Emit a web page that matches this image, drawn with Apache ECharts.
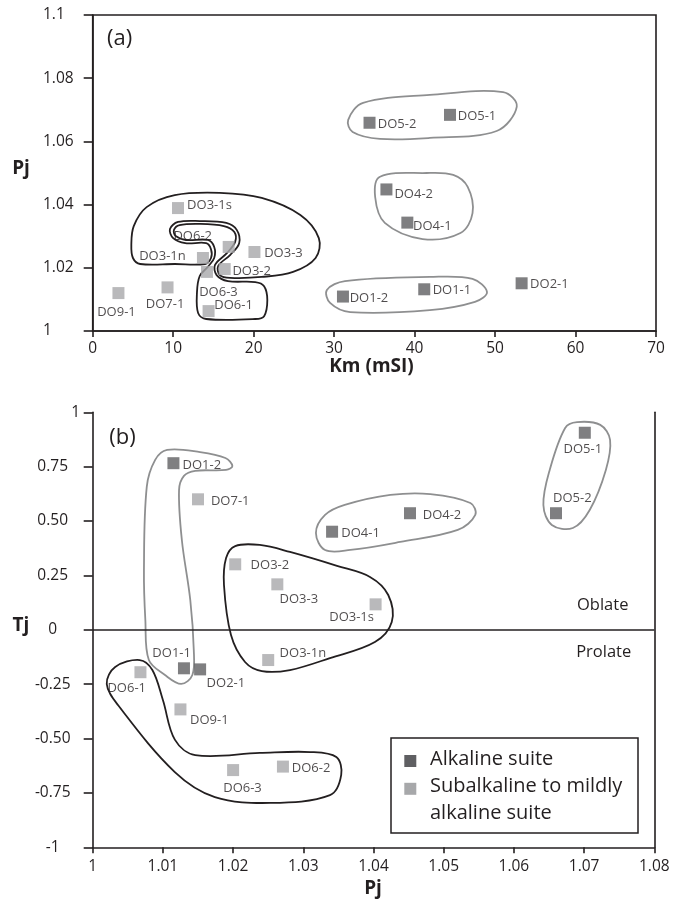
<!DOCTYPE html>
<html>
<head>
<meta charset="utf-8">
<script src="https://cdn.jsdelivr.net/npm/echarts@6/dist/echarts.min.js"></script>
<style>
html,body{margin:0;padding:0;background:#fff}
#chart{width:676px;height:903px}
</style>
</head>
<body>
<div id="chart"></div>
<script>
// ---------- Panel (a): Km (mSI) against Pj ----------
const kmTicks = ['0', '10', '20', '30', '40', '50', '60', '70'];
const pjTicksA = ['1', '1.02', '1.04', '1.06', '1.08', '1.1'];

const alkNamesA = ['DO5-2', 'DO5-1', 'DO4-2', 'DO4-1', 'DO1-2', 'DO1-1', 'DO2-1'];
const alkKm     = [34.4, 44.4, 36.5, 39.1, 31.1, 41.2, 53.3];
const alkPjA    = [1.0659, 1.0684, 1.0448, 1.0343, 1.0109, 1.0132, 1.0151];

const subNamesA = ['DO3-1s', 'DO6-2', 'DO3-3', 'DO3-1n', 'DO3-2', 'DO6-3', 'DO6-1', 'DO7-1', 'DO9-1'];
const subKm     = [10.6, 16.9, 20.1, 13.7, 16.4, 14.2, 14.4, 9.3, 3.2];
const subPjA    = [1.0389, 1.0266, 1.0250, 1.0231, 1.0196, 1.0187, 1.0063, 1.0138, 1.0120];

// group outlines, panel (a), as [Km, Pj] vertices
const outlineA_DO5 = [[31.75,1.0668],[33.6,1.0722],[41.9,1.0747],[51.0,1.0756],[52.7,1.0710],[50.2,1.0633],[41.9,1.0611],[35.7,1.0608],[32.3,1.0630]];
const outlineA_DO4 = [[35.7,1.0488],[41.5,1.0500],[44.8,1.0494],[46.6,1.0456],[47.2,1.0373],[45.7,1.0310],[41.0,1.0291],[36.3,1.0342],[35.1,1.0424]];
const outlineA_DO1 = [[29.1,1.0130],[31.35,1.0158],[41.9,1.0171],[47.2,1.0165],[49.0,1.0123],[47.5,1.0092],[41.9,1.0066],[32.0,1.0060],[29.5,1.0089]];
const outlineA_DO3 = [[4.8,1.0272],[5.1,1.0332],[6.7,1.0392],[10.2,1.0430],[15.8,1.0437],[21.0,1.0421],[25.8,1.0367],[28.1,1.0294],[27.7,1.0231],[24.9,1.0187],[21.0,1.0171],[17.1,1.0168],[15.8,1.0177],[15.6,1.0206],[17.1,1.0241],[18.2,1.0278],[17.9,1.0320],[16.6,1.0342],[13.3,1.0348],[10.6,1.0345],[9.6,1.0323],[10.0,1.0294],[11.5,1.0278],[14.1,1.0278],[14.7,1.0259],[14.7,1.0231],[13.96,1.0212],[10.2,1.0212],[5.9,1.0212],[5.0,1.0231]];
const outlineA_DO6 = [[12.96,1.0123],[13.3,1.0174],[14.3,1.0203],[15.1,1.0231],[15.1,1.0266],[14.3,1.0288],[11.6,1.0288],[10.3,1.0301],[10.1,1.0320],[10.8,1.0335],[13.3,1.0339],[16.3,1.0332],[17.6,1.0313],[17.7,1.0282],[16.7,1.0247],[15.2,1.0209],[15.4,1.0177],[16.8,1.0158],[20.2,1.0155],[21.3,1.0142],[21.7,1.0098],[21.3,1.0047],[20.2,1.0038],[14.1,1.0038],[13.1,1.0057]];

// ---------- Panel (b): Pj against Tj ----------
const pjTicksB = ['1', '1.01', '1.02', '1.03', '1.04', '1.05', '1.06', '1.07', '1.08'];
const tjTicks  = ['-1', '-0.75', '-0.50', '-0.25', '0', '0.25', '0.50', '0.75', '1'];

const alkNamesB = ['DO1-2', 'DO1-1', 'DO2-1', 'DO4-1', 'DO4-2', 'DO5-1', 'DO5-2'];
const alkPjB    = [1.0115, 1.0130, 1.0153, 1.0341, 1.0452, 1.0701, 1.0660];
const alkTj     = [0.766, -0.177, -0.182, 0.451, 0.536, 0.906, 0.536];

const subNamesB = ['DO7-1', 'DO3-2', 'DO3-3', 'DO3-1s', 'DO3-1n', 'DO6-1', 'DO9-1', 'DO6-3', 'DO6-2'];
const subPjB    = [1.0150, 1.0203, 1.0263, 1.0403, 1.0250, 1.0068, 1.0125, 1.0200, 1.0271];
const subTj     = [0.600, 0.301, 0.209, 0.117, -0.139, -0.195, -0.366, -0.645, -0.629];

// group outlines, panel (b), as [Pj, Tj] vertices
const outlineB_DO1 = [[1.0106,0.827],[1.0153,0.817],[1.0189,0.790],[1.0199,0.753],[1.0190,0.735],[1.0146,0.731],[1.0130,0.708],[1.0123,0.643],[1.0127,0.413],[1.0139,0.137],[1.0144,-0.093],[1.0142,-0.208],[1.0126,-0.249],[1.0103,-0.208],[1.0080,-0.139],[1.0075,0.045],[1.0073,0.275],[1.0077,0.657],[1.0089,0.781]];
const outlineB_DO3 = [[1.0203,0.385],[1.0238,0.390],[1.0281,0.358],[1.0348,0.294],[1.0395,0.243],[1.0421,0.160],[1.0426,0.036],[1.0402,-0.056],[1.0338,-0.130],[1.0281,-0.185],[1.0241,-0.190],[1.0217,-0.148],[1.0197,-0.024],[1.0187,0.206],[1.0190,0.330]];
const outlineB_DO4 = [[1.0318,0.445],[1.0331,0.528],[1.0359,0.574],[1.0424,0.620],[1.0481,0.624],[1.0538,0.583],[1.0545,0.528],[1.0520,0.459],[1.0438,0.404],[1.0367,0.367],[1.0331,0.367]];
const outlineB_DO5 = [[1.0690,0.955],[1.0723,0.942],[1.0737,0.873],[1.0731,0.735],[1.0708,0.551],[1.0684,0.468],[1.0654,0.482],[1.0642,0.574],[1.0651,0.735],[1.0673,0.928]];
const outlineB_DO6 = [[1.0067,-0.139],[1.0085,-0.185],[1.0100,-0.323],[1.0117,-0.505],[1.0146,-0.576],[1.0238,-0.566],[1.0310,-0.562],[1.0347,-0.585],[1.0354,-0.667],[1.0338,-0.760],[1.0253,-0.796],[1.0174,-0.769],[1.0117,-0.654],[1.0036,-0.346],[1.0020,-0.249],[1.0032,-0.171]];

const legendNames = ['Alkaline suite', 'Subalkaline to mildly', 'alkaline suite'];

// ---------- styling ----------
const INK = '#231f20';
const DARK = '#5f5f62';
const LIGHT = '#a7a8aa';
const RIM = '#8e8f90';
const FONT = '"Open Sans", "Noto Sans", sans-serif';

// label placement (offset of label centre from marker centre, px)
const labelShiftA = {
  'DO3-1s': [31.5, -3], 'DO6-2': [-36, -11], 'DO3-3': [29, 1], 'DO3-1n': [-40.5, -2],
  'DO3-2': [27, 2], 'DO6-3': [11.5, 20], 'DO6-1': [25, -6], 'DO7-1': [-2.5, 17], 'DO9-1': [-2, 19],
  'DO5-2': [27.5, 1.3], 'DO5-1': [27, 1], 'DO4-2': [27.3, 4.7], 'DO4-1': [25, 3.3],
  'DO1-2': [26, 1.3], 'DO1-1': [27.7, 0.7], 'DO2-1': [27.8, 0.7]
};
const labelShiftB = {
  'DO1-2': [28.4, 2.4], 'DO7-1': [32.2, 1.7], 'DO3-2': [34.7, 0.7], 'DO3-3': [21.5, 15],
  'DO3-1s': [-24, 13], 'DO3-1n': [34.7, -6.7], 'DO1-1': [-12.3, -15], 'DO2-1': [25.8, 14],
  'DO6-1': [-13.7, 16], 'DO9-1': [28.9, 10.7], 'DO6-3': [9.4, 18.3], 'DO6-2': [28.1, 1.6],
  'DO4-1': [28.5, 1.6], 'DO4-2': [32, 2.4], 'DO5-1': [-2, 16.6], 'DO5-2': [16.3, -15]
};

function points(names, xs, ys, shifts) {
  return names.map((n, i) => ({
    name: n,
    value: [xs[i], ys[i]],
    label: { offset: shifts[n] }
  }));
}

function scatter(name, data, color, xi, yi, extra) {
  return Object.assign({
    name: name,
    type: 'scatter',
    xAxisIndex: xi, yAxisIndex: yi,
    symbol: 'rect', symbolSize: 12,
    itemStyle: { color: color },
    z: 3,
    label: {
      show: true, position: 'inside', formatter: p => p.name,
      color: INK, fontSize: 13, fontFamily: FONT
    },
    emphasis: { disabled: true },
    data: data
  }, extra || {});
}

function outlines(list, xi, yi) {
  return {
    type: 'custom',
    coordinateSystem: 'cartesian2d',
    xAxisIndex: xi, yAxisIndex: yi,
    silent: true, z: 2,
    data: list.map(o => o.pts[0]),
    renderItem: (params, api) => {
      const o = list[params.dataIndex];
      return {
        type: 'polygon',
        shape: { points: o.pts.map(p => api.coord(p)), smooth: 0.35 },
        style: { fill: 'none', stroke: o.color, lineWidth: 1.8 }
      };
    }
  };
}

const tickLabel = (labels, min, step) => v => labels[Math.round((v - min) / step)] || '';
const axisLine = { show: true, onZero: false, lineStyle: { color: INK, width: 1.6 } };
const labelStyle = { color: INK, fontSize: 15.5, fontFamily: FONT };

const chart = echarts.init(document.getElementById('chart'), null, { renderer: 'canvas' });

chart.setOption({
  animation: false,
  backgroundColor: '#fff',
  grid: [
    { left: 92.7, top: 15, width: 563.3, height: 316, show: true, borderColor: INK, borderWidth: 1.6 },
    { left: 92.7, top: 412.3, width: 561.6, height: 435 }
  ],
  xAxis: [
    {
      gridIndex: 0, type: 'value', min: 0, max: 70, interval: 10,
      axisLine: axisLine, splitLine: { show: false },
      axisTick: { show: true, length: 6, lineStyle: { color: INK, width: 1.6 } },
      axisLabel: Object.assign({ margin: 10, formatter: tickLabel(kmTicks, 0, 10) }, labelStyle)
    },
    {
      gridIndex: 1, type: 'value', min: 1, max: 1.08, interval: 0.01,
      axisLine: axisLine, splitLine: { show: false },
      axisTick: { show: true, length: 6, lineStyle: { color: INK, width: 1.6 } },
      axisLabel: Object.assign({ margin: 11, formatter: tickLabel(pjTicksB, 1, 0.01) }, labelStyle)
    }
  ],
  yAxis: [
    {
      gridIndex: 0, type: 'value', min: 1, max: 1.1, interval: 0.02,
      axisLine: axisLine, splitLine: { show: false },
      axisTick: { show: true, length: 9, lineStyle: { color: INK, width: 1.6 } },
      axisLabel: Object.assign({ margin: 49.7, align: 'left', formatter: tickLabel(pjTicksA, 1, 0.02) }, labelStyle)
    },
    {
      gridIndex: 1, type: 'value', min: -1, max: 1, interval: 0.25,
      axisLine: axisLine, splitLine: { show: false },
      axisTick: { show: true, length: 9, lineStyle: { color: INK, width: 1.6 } },
      axisLabel: Object.assign({
        margin: 40, align: 'center',
        formatter: v => {
          const t = tickLabel(tjTicks, -1, 0.25)(v);
          return t === '1' ? '{top|' + t + '}' : t;
        },
        rich: { top: { padding: [0, 0, 0, 46], fontSize: 15.5, fontFamily: FONT, color: INK } }
      }, labelStyle)
    },
    {
      gridIndex: 1, type: 'value', min: -1, max: 1, position: 'right',
      axisLine: axisLine, axisTick: { show: false }, axisLabel: { show: false }, splitLine: { show: false }
    }
  ],
  series: [
    outlines([
      { pts: outlineA_DO5, color: RIM },
      { pts: outlineA_DO4, color: RIM },
      { pts: outlineA_DO1, color: RIM },
      { pts: outlineA_DO3, color: INK },
      { pts: outlineA_DO6, color: INK }
    ], 0, 0),
    outlines([
      { pts: outlineB_DO1, color: RIM },
      { pts: outlineB_DO4, color: RIM },
      { pts: outlineB_DO5, color: RIM },
      { pts: outlineB_DO3, color: INK },
      { pts: outlineB_DO6, color: INK }
    ], 1, 1),
    scatter('Alkaline suite', points(alkNamesA, alkKm, alkPjA, labelShiftA), DARK, 0, 0),
    scatter('Subalkaline to mildly alkaline suite', points(subNamesA, subKm, subPjA, labelShiftA), LIGHT, 0, 0),
    scatter('Alkaline suite', points(alkNamesB, alkPjB, alkTj, labelShiftB), DARK, 1, 1, {
      markLine: {
        silent: true, symbol: ['none', 'none'], label: { show: false },
        lineStyle: { color: INK, width: 1.6, type: 'solid' },
        emphasis: { disabled: true },
        data: [{ yAxis: 0 }]
      }
    }),
    scatter('Subalkaline to mildly alkaline suite', points(subNamesB, subPjB, subTj, labelShiftB), LIGHT, 1, 1)
  ],
  graphic: [
    { type: 'text', x: 119.7, y: 39, style: { text: '(a)', fill: INK, font: '22px ' + FONT, textAlign: 'center', textVerticalAlign: 'middle' } },
    { type: 'text', x: 122.5, y: 438, style: { text: '(b)', fill: INK, font: '22px ' + FONT, textAlign: 'center', textVerticalAlign: 'middle' } },
    { type: 'text', x: 21, y: 169, style: { text: 'Pj', fill: INK, font: 'bold 19px ' + FONT, textAlign: 'center', textVerticalAlign: 'middle' } },
    { type: 'text', x: 371.5, y: 367, style: { text: 'Km (mSI)', fill: INK, font: 'bold 19px ' + FONT, textAlign: 'center', textVerticalAlign: 'middle' } },
    { type: 'text', x: 21, y: 626, style: { text: 'Tj', fill: INK, font: 'bold 19px ' + FONT, textAlign: 'center', textVerticalAlign: 'middle' } },
    { type: 'text', x: 373, y: 889, style: { text: 'Pj', fill: INK, font: 'bold 19px ' + FONT, textAlign: 'center', textVerticalAlign: 'middle' } },
    { type: 'text', x: 602.7, y: 605.7, style: { text: 'Oblate', fill: INK, font: '16.5px ' + FONT, textAlign: 'center', textVerticalAlign: 'middle' } },
    { type: 'text', x: 603.7, y: 652.5, style: { text: 'Prolate', fill: INK, font: '16.5px ' + FONT, textAlign: 'center', textVerticalAlign: 'middle' } },
    // legend box
    { type: 'rect', shape: { x: 391, y: 738, width: 247, height: 95 }, style: { fill: '#fff', stroke: INK, lineWidth: 1.5 }, z: 10 },
    { type: 'rect', shape: { x: 404.3, y: 755, width: 12, height: 12 }, style: { fill: DARK }, z: 11 },
    { type: 'rect', shape: { x: 404.3, y: 782.8, width: 12, height: 12 }, style: { fill: LIGHT }, z: 11 },
    { type: 'text', x: 430, y: 759, z: 11, style: { text: legendNames[0], fill: INK, font: '20px ' + FONT, textVerticalAlign: 'middle' } },
    { type: 'text', x: 430, y: 786.7, z: 11, style: { text: legendNames[1], fill: INK, font: '20px ' + FONT, textVerticalAlign: 'middle' } },
    { type: 'text', x: 430, y: 813.3, z: 11, style: { text: legendNames[2], fill: INK, font: '20px ' + FONT, textVerticalAlign: 'middle' } }
  ]
});
</script>
</body>
</html>
